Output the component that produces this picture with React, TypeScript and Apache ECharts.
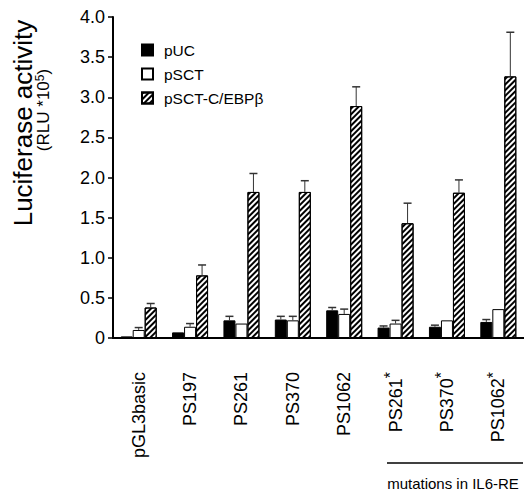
import React, { useEffect, useRef } from 'react';
import * as echarts from 'echarts';

const categories = ['pGL3basic', 'PS197', 'PS261', 'PS370', 'PS1062', 'PS261*', 'PS370*', 'PS1062*'];
const seriesNames = ['pUC', 'pSCT', 'pSCT-C/EBPβ'];
const pUC = [0.02, 0.07, 0.22, 0.23, 0.345, 0.13, 0.14, 0.2];
const pUCErr = [0, 0, 0.05, 0.04, 0.035, 0.02, 0.02, 0.03];
const pSCT = [0.1, 0.14, 0.18, 0.22, 0.3, 0.18, 0.22, 0.36];
const pSCTErr = [0.03, 0.04, 0, 0.05, 0.06, 0.04, 0, 0];
const pSCTCEBP = [0.38, 0.78, 1.82, 1.82, 2.89, 1.43, 1.81, 3.26];
const pSCTCEBPErr = [0.05, 0.13, 0.23, 0.14, 0.24, 0.25, 0.16, 0.55];
const yMin = 0;
const yMax = 4;
const yInterval = 0.5;

const FONT = 'Liberation Sans, Arial, sans-serif';

export default function App() {
  const ref = useRef<HTMLDivElement>(null);
  useEffect(() => {
    if (!ref.current) return;
    const chart = echarts.init(ref.current, null, { renderer: 'svg' });
    const barW = 12;
    const values = [pUC, pSCT, pSCTCEBP];
    const errs = [pUCErr, pSCTErr, pSCTCEBPErr];
    const hatch = {
      symbol: 'rect',
      symbolSize: 1,
      color: '#000',
      backgroundColor: '#fff',
      dashArrayX: [1, 0],
      dashArrayY: [2, 2],
      rotation: -Math.PI / 4,
    };
    const barStyles = [
      { color: '#000', borderColor: '#000', borderWidth: 1 },
      { color: '#fff', borderColor: '#000', borderWidth: 1 },
      { color: '#fff', borderColor: '#000', borderWidth: 1, decal: hatch },
    ];
    const bars = values.map((v, k) => ({
      name: seriesNames[k],
      type: 'bar',
      data: v,
      barWidth: barW,
      barGap: '0%',
      itemStyle: barStyles[k],
      z: 2,
    }));
    const errSeries = values.map((v, k) => ({
      name: 'err' + k,
      type: 'custom',
      z: 3,
      data: v.map((val, i) => [i, val, val + errs[k][i]]).filter((d, i) => errs[k][i] > 0),
      encode: { x: 0, y: [1, 2] },
      renderItem: (params: any, api: any) => {
        const i = api.value(0);
        const base = api.coord([i, api.value(1)]);
        const top = api.coord([i, api.value(2)]);
        const x = base[0] + (k - 1) * barW;
        return {
          type: 'group',
          children: [
            { type: 'line', shape: { x1: x, y1: base[1], x2: x, y2: top[1] }, style: { stroke: '#333', lineWidth: 1 } },
            { type: 'line', shape: { x1: x - 4, y1: top[1], x2: x + 4, y2: top[1] }, style: { stroke: '#333', lineWidth: 1.5 } },
          ],
        };
      },
    }));
    chart.setOption({
      animation: false,
      textStyle: { fontFamily: FONT },
      grid: { left: 113, top: 17, width: 418, height: 321 },
      legend: {
        data: seriesNames,
        orient: 'vertical',
        left: 136,
        top: 37,
        itemWidth: 11,
        itemHeight: 11,
        itemGap: 8,
        icon: 'rect',
        textStyle: { fontSize: 15.5, color: '#000', fontFamily: FONT, padding: [0, 0, 0, 6] },
      },
      xAxis: {
        type: 'category',
        data: categories,
        axisLine: { lineStyle: { color: '#000', width: 2 } },
        axisTick: { show: false },
        axisLabel: {
          rotate: 90,
          margin: 34,
          color: '#000',
          fontSize: 18,
          fontFamily: FONT,
          interval: 0,
          formatter: (name: string) =>
            name.endsWith('*') ? `{a|${name.slice(0, -1)}}{s|*}` : `{a|${name}}`,
          rich: {
            a: { fontSize: 18, fontFamily: FONT, color: '#000' },
            s: { fontSize: 16, fontFamily: FONT, color: '#000', verticalAlign: 'top', padding: [0, 0, 10, 0] },
          },
        },
      },
      yAxis: {
        type: 'value',
        min: yMin,
        max: yMax,
        interval: yInterval,
        splitLine: { show: false },
        axisLine: { show: true, lineStyle: { color: '#000', width: 2 } },
        axisTick: { show: true, length: 5, lineStyle: { color: '#000', width: 1.5 } },
        axisLabel: {
          margin: 8,
          color: '#000',
          fontSize: 18,
          fontFamily: FONT,
          formatter: (v: number) => (v === 0 ? '0' : v.toFixed(1)),
        },
      },
      graphic: [
        {
          type: 'text',
          x: 23,
          y: 123,
          rotation: Math.PI / 2,
          style: { text: 'Luciferase activity', fontSize: 26, fontFamily: FONT, fill: '#000', align: 'center', verticalAlign: 'middle' },
        },
        {
          type: 'text',
          x: 43,
          y: 110,
          rotation: Math.PI / 2,
          style: {
            text: '{b|(RLU *10}{c|5}{b|)}',
            align: 'center',
            verticalAlign: 'middle',
            rich: {
              b: { fontSize: 17, fontFamily: FONT, fill: '#000', color: '#000' },
              c: { fontSize: 12, fontFamily: FONT, fill: '#000', color: '#000', verticalAlign: 'top', padding: [0, 0, 7, 0] },
            },
          },
        },
        {
          type: 'line',
          shape: { x1: 387, y1: 463, x2: 523, y2: 463 },
          style: { stroke: '#000', lineWidth: 1.5 },
        },
        {
          type: 'text',
          x: 453,
          y: 483,
          style: { text: 'mutations in IL6-RE', fontSize: 15, fontFamily: FONT, fill: '#000', align: 'center', verticalAlign: 'middle' },
        },
      ],
      series: [...bars, ...errSeries],
    });
    return () => chart.dispose();
  }, []);
  return <div ref={ref} style={{ position: 'absolute', left: 0, top: 0, width: 524, height: 492 }} />;
}
